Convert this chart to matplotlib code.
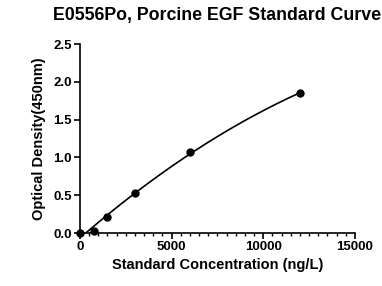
import numpy as np
import matplotlib.pyplot as plt
from matplotlib.ticker import MultipleLocator

plt.rcParams['font.family'] = ['Liberation Sans', 'DejaVu Sans']
plt.rcParams['font.weight'] = 'bold'

# standard points
conc = [0, 750, 1500, 3000, 6000, 12000]
od = [0.0, 0.03, 0.21, 0.53, 1.07, 1.85]

xticks = [0, 5000, 10000, 15000]
yticks = [0.0, 0.5, 1.0, 1.5, 2.0, 2.5]

# fitted curve from the standards
coef = np.polyfit(conc, od, 2)
xs = np.linspace(0, max(conc), 400)
ys = np.polyval(coef, xs)
keep = ys >= 0
xs, ys = xs[keep], ys[keep]

fig = plt.figure(figsize=(3.82, 2.86), dpi=100)
ax = fig.add_axes([0.209, 0.185, 0.72, 0.661])
ax.plot(xs, ys, color='black', lw=1.2)
ax.plot(conc, od, 'o', color='black', markersize=5, clip_on=False, zorder=5)

ax.set_xlim(0, 15000)
ax.set_ylim(0, 2.5)
ax.set_xticks(xticks)
ax.set_yticks(yticks)
ax.set_yticklabels(['%.1f' % v for v in yticks])
ax.xaxis.set_minor_locator(MultipleLocator(500))
for s in ['top', 'right']:
    ax.spines[s].set_visible(False)
for s in ['left', 'bottom']:
    ax.spines[s].set_linewidth(1.2)
ax.tick_params(which='major', direction='out', length=4, width=1.2, labelsize=9.5, pad=2)
ax.tick_params(which='minor', direction='out', length=2.5, width=1.0)

ax.set_xlabel('Standard Concentration (ng/L)', fontsize=10.5, fontweight='bold', labelpad=3)
ax.set_ylabel('Optical Density(450nm)', fontsize=10.5, fontweight='bold', labelpad=5)
ax.set_title('E0556Po, Porcine EGF Standard Curve', fontsize=12.8, fontweight='bold', pad=17)

fig.savefig('out.png', dpi=100)
